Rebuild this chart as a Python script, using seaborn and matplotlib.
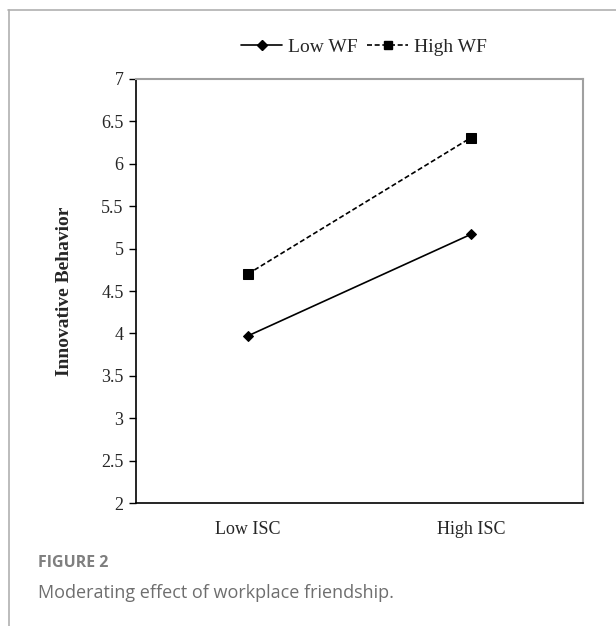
import matplotlib
matplotlib.use("Agg")
import matplotlib.pyplot as plt
from matplotlib.lines import Line2D
import pandas as pd
import seaborn as sns

# data
isc_levels = ["Low ISC", "High ISC"]
low_wf = [3.97, 5.17]
high_wf = [4.70, 6.31]
y_ticks = [2, 2.5, 3, 3.5, 4, 4.5, 5, 5.5, 6, 6.5, 7]
y_tick_labels = ["2", "2.5", "3", "3.5", "4", "4.5", "5", "5.5", "6", "6.5", "7"]

df = pd.DataFrame({
    "ISC": isc_levels * 2,
    "value": low_wf + high_wf,
    "WF": ["Low WF"] * 2 + ["High WF"] * 2,
})

sns.set_style("white")
plt.rcParams["font.family"] = ["Liberation Serif", "DejaVu Serif"]

fig = plt.figure(figsize=(6.16, 6.26), dpi=100)
ax = fig.add_axes([136 / 616, 1 - 503 / 626, (583 - 136) / 616, (503 - 79) / 626])

sns.lineplot(
    data=df, x="ISC", y="value", style="WF",
    markers={"Low WF": "D", "High WF": "s"},
    dashes={"Low WF": "", "High WF": (3, 1.6)},
    color="black", linewidth=1.2, markersize=6,
    markeredgecolor="black", legend=False, ax=ax,
)
# diamond smaller than the square
for ln in ax.lines:
    if ln.get_marker() == "D":
        ln.set_markersize(5)
    else:
        ln.set_markersize(7)

ax.set_xlim(-0.5, 1.5)
ax.set_ylim(2, 7)
ax.set_yticks(y_ticks)
ax.set_yticklabels(y_tick_labels, fontsize=13)
ax.set_xticks([0, 1])
ax.set_xticklabels(isc_levels, fontsize=13)
ax.set_xticks([-0.5, 0.5, 1.5], minor=True)
ax.tick_params(axis="x", which="major", length=0, pad=13)
ax.tick_params(axis="x", which="minor", length=6, width=1, color="black", direction="out")
ax.tick_params(axis="y", length=5, width=1, color="black", direction="out", left=True, pad=4)
ax.set_xlabel("")
ax.set_ylabel("Innovative Behavior", fontsize=14, fontweight="bold", labelpad=20)

for side in ["left", "bottom"]:
    ax.spines[side].set_color("black")
    ax.spines[side].set_linewidth(1.2)
for side in ["top", "right"]:
    ax.spines[side].set_color("#a0a0a0")
    ax.spines[side].set_linewidth(1.5)

handles = [
    Line2D([], [], color="black", marker="D", markersize=5, linewidth=1.2),
    Line2D([], [], color="black", marker="s", markersize=6, linewidth=1.2, dashes=(3, 1.6)),
]
fig.legend(handles, ["Low WF", "High WF"], loc="center", bbox_to_anchor=(364 / 616, 1 - 47 / 626),
           ncol=2, frameon=False, fontsize=14, handlelength=2.1, handletextpad=0.3,
           columnspacing=0.5)

# outer page frame
fig.add_artist(Line2D([8 / 616, 1], [1 - 10 / 626] * 2, color="#b0b0b0", linewidth=1.2))
fig.add_artist(Line2D([9 / 616] * 2, [0, 1 - 10 / 626], color="#b0b0b0", linewidth=1.2))

fig.text(38 / 616, 1 - 563 / 626, "FIGURE 2", family="Open Sans", fontsize=11.5,
         fontweight="bold", color="#7f7f7f", va="center")
fig.text(38 / 616, 1 - 593 / 626, "Moderating effect of workplace friendship.", family="Open Sans",
         fontsize=13, color="#6e6e6e", va="center")

fig.savefig("out.png", dpi=100)
